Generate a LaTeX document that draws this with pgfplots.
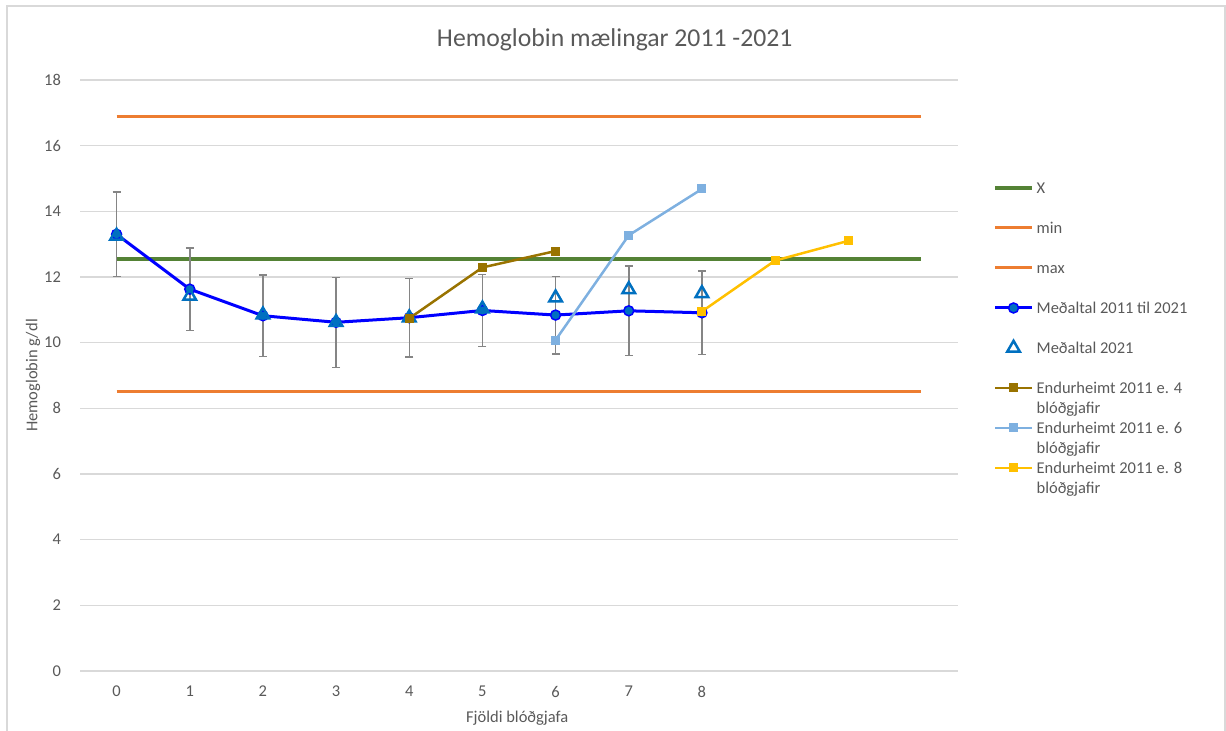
\documentclass[border=0pt]{standalone}
\usepackage{pgfplots}
\pgfplotsset{compat=1.18}
\usepackage{fontspec}
\setmainfont{Carlito}
\definecolor{txt}{HTML}{595959}
\definecolor{gridc}{HTML}{D9D9D9}
\definecolor{cgreen}{HTML}{548235}
\definecolor{corange}{HTML}{ED7D31}
\definecolor{cblue}{HTML}{0000FF}
\definecolor{cmblue}{HTML}{0070C0}
\definecolor{cbrown}{HTML}{997300}
\definecolor{clight}{HTML}{7EB0E0}
\definecolor{cyellow}{HTML}{FFC000}
\definecolor{cerr}{HTML}{858585}
\newcommand\blankentry{\addlegendimage{empty legend}\addlegendentry{\mbox{}}}
\begin{document}
\begin{tikzpicture}
\useasboundingbox (0,0) rectangle (613pt,365.5pt);
\draw[gridc, line width=0.75pt] (3.5pt,-5pt) -- (3.5pt,362.5pt) -- (612.5pt,362.5pt) -- (612.5pt,-5pt);
\begin{axis}[
  at={(40pt,30pt)}, anchor=south west,
  scale only axis, width=439pt, height=295.5pt,
  xmin=-0.5, xmax=11.5, ymin=0, ymax=18,
  xtick={0,...,8}, ytick={0,2,...,18},
  axis line style={draw=none},
  major tick length=0pt,
  ymajorgrids, grid style={gridc, line width=0.75pt},
  tick label style={font=\fontsize{8.25}{10}\selectfont, text=txt},
  /pgf/number format/assume math mode=true,
  xticklabel style={yshift=-4pt},
  yticklabel style={xshift=-6pt},
  title={Hemoglobin mælingar 2011 -2021},
  title style={font=\fontsize{12.85}{15}\selectfont, text=txt, at={(0.609,1.0473)}, anchor=center, yshift=0pt},
  xlabel={Fjöldi blóðgjafa},
  ylabel={Hemoglobin g/dl},
  label style={font=\fontsize{8.25}{10}\selectfont, text=txt},
  xlabel style={at={(0.498,-0.0795)}, anchor=center},
  ylabel style={at={(-0.0535,0.5)}, anchor=center},
  legend style={draw=none, fill=none, at={(1.0399,0.8325)}, anchor=north west,
    font=\fontsize{8.25}{10}\selectfont, text=txt, row sep=0pt, inner sep=0pt,
    nodes={inner sep=0pt, text height=7pt, text depth=3pt},
    cells={anchor=base west}, column sep=1.5pt},
  legend image code/.code={\draw[mark repeat=2,mark phase=2,yshift=2.7pt,#1] plot coordinates {(0pt,0pt) (9.25pt,0pt) (18.5pt,0pt)};},
  clip=false,
]
\addplot[cgreen, line width=1.6pt] coordinates {(0,12.55) (11,12.55)};
\addlegendentry{X}
\blankentry
\addplot[corange, line width=1.5pt] coordinates {(0,8.5) (11,8.5)};
\addlegendentry{min}
\blankentry
\addplot[corange, line width=1.5pt] coordinates {(0,16.9) (11,16.9)};
\addlegendentry{max}
\blankentry
\addplot[cblue, line width=1.5pt, mark=*, mark size=2.5pt,
  mark options={fill=cmblue, draw=cblue, line width=0.75pt},
  error bars/.cd, y dir=both, y explicit,
  error bar style={cerr, line width=0.75pt},
  error mark options={cerr, line width=0.75pt, mark size=2pt, rotate=90}]
  coordinates {
  (0,13.30) +- (0,1.29)
  (1,11.63) +- (0,1.26)
  (2,10.82) +- (0,1.24)
  (3,10.62) +- (0,1.37)
  (4,10.76) +- (0,1.20)
  (5,10.98) +- (0,1.10)
  (6,10.84) +- (0,1.18)
  (7,10.97) +- (0,1.36)
  (8,10.91) +- (0,1.27)
  };
\addlegendentry{Meðaltal 2011 til 2021}
\blankentry
\addplot[only marks, mark=triangle, mark size=3.6pt,
  mark options={cmblue, line width=1.25pt}]
  coordinates {(0,13.25) (1,11.42) (2,10.85) (3,10.62) (4,10.76) (5,11.03) (6,11.37) (7,11.62) (8,11.50)};
\addlegendentry{Meðaltal 2021}
\blankentry
\addplot[cbrown, line width=1.25pt, mark=square*, mark size=2pt, mark options={fill=cbrown, draw=cbrown, line width=0.5pt}]
  coordinates {(4,10.74) (5,12.29) (6,12.79)};
\addlegendentry{Endurheimt 2011 e. 4}
\addlegendimage{empty legend}\addlegendentry{blóðgjafir}
\addplot[clight, line width=1.25pt, mark=square*, mark size=2pt, mark options={fill=clight, draw=clight, line width=0.5pt}]
  coordinates {(6,10.08) (7,13.27) (8,14.68)};
\addlegendentry{Endurheimt 2011 e. 6}
\addlegendimage{empty legend}\addlegendentry{blóðgjafir}
\addplot[cyellow, line width=1.25pt, mark=square*, mark size=2pt, mark options={fill=cyellow, draw=cyellow, line width=0.5pt}]
  coordinates {(8,10.95) (9,12.50) (10,13.10)};
\addlegendentry{Endurheimt 2011 e. 8}
\addlegendimage{empty legend}\addlegendentry{blóðgjafir}
\end{axis}
\end{tikzpicture}
\end{document}
